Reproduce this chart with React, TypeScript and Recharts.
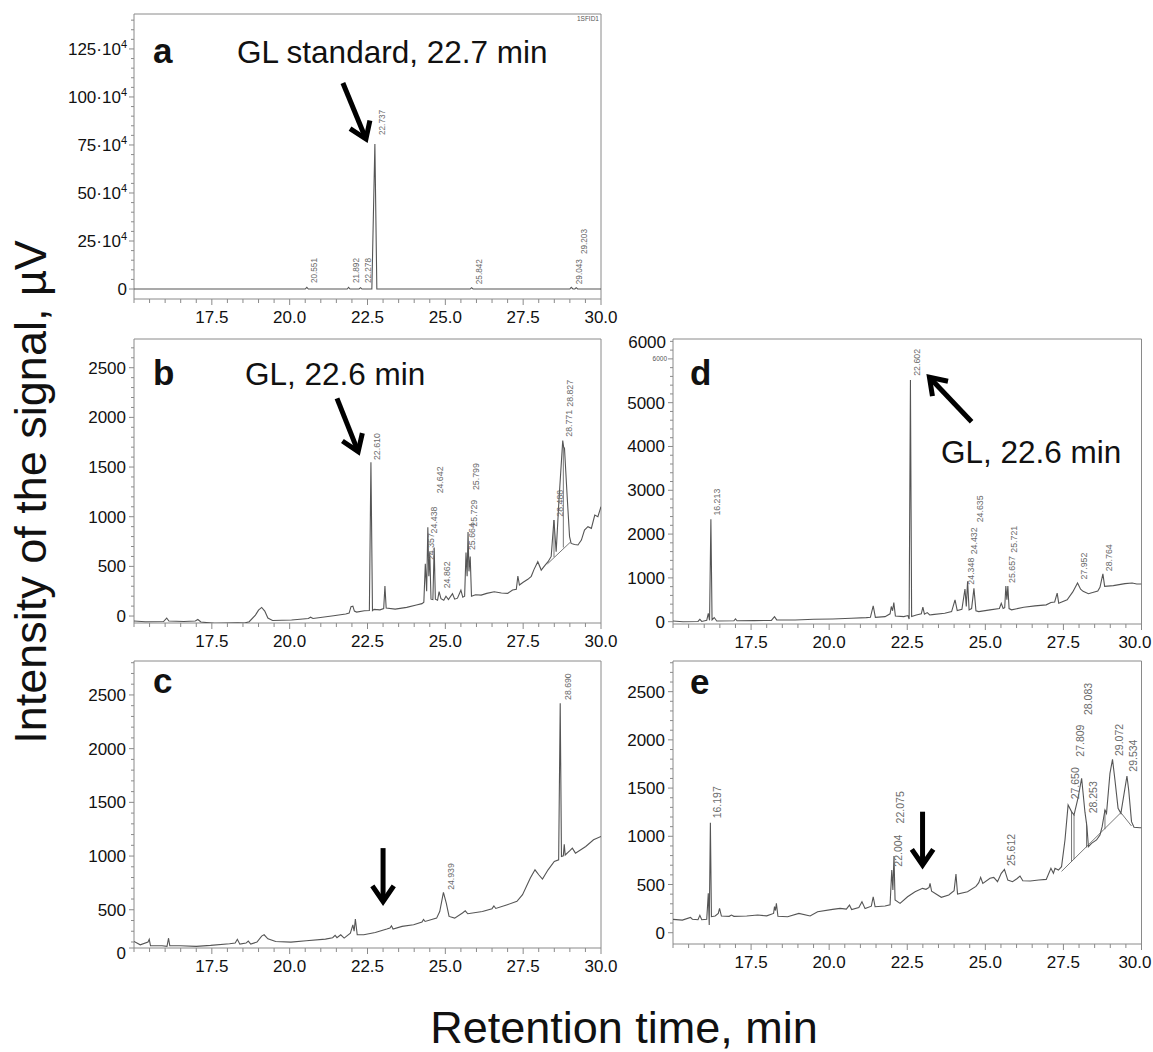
import React from "react";
import { ComposedChart, Line, XAxis, YAxis, ReferenceLine, ReferenceArea } from "recharts";

type Pt = [number, number];

const FONT = "'Liberation Sans', Arial, Helvetica, sans-serif";
const INK = "#111";
const TRACE = "#555";
const FRAME = "#8a8a8a";
const PEAK_INK = "#6a6a6a";
const PAGE_W = 1153;

const steps = (from: number, to: number, step: number) => {
  const out: number[] = [];
  for (let v = from; v <= to + 1e-9; v += step) out.push(Math.round(v * 1000) / 1000);
  return out;
};

// retention time axis (same for all panels)
const xDomain: [number, number] = [15, 30];
const xMajor = [17.5, 20, 22.5, 25, 27.5, 30];
const xTicks = steps(15, 30, 0.5);

// a: GL standard
const traceA: Pt[] = [
  [15, 0], [20.5, 0], [20.551, 9000], [20.6, 0], [21.85, 0], [21.892, 9000], [21.94, 0],
  [22.23, 0], [22.278, 7000], [22.32, 0], [22.64, 0], [22.737, 755000], [22.8, 0],
  [25.8, 0], [25.842, 7000], [25.89, 0], [29.0, 0], [29.043, 9000], [29.1, 0],
  [29.16, 0], [29.203, 7000], [29.25, 0], [30, 0],
];
const peaksA: Pt[] = [
  [20.551, 31000], [21.892, 31000], [22.278, 31000], [22.737, 802000],
  [25.842, 25000], [29.043, 25000], [29.203, 182000],
];

// b
const traceB: Pt[] = [
  [15.0, -50], [15.36, -57], [15.95, -55], [16.05, -20], [16.12, -50], [16.6, -55], [16.97, -50],
  [17.05, -35], [17.15, -60], [17.59, -74], [18.0, -70], [18.33, -67], [18.55, -70], [18.7, -57],
  [18.9, 10], [19.0, 60], [19.1, 87], [19.2, 50], [19.3, -20], [19.45, -45], [20.06, -40],
  [20.6, -25], [20.67, -12], [20.75, -25], [21.41, 3], [21.8, 20], [21.91, 30], [21.97, 95],
  [22.03, 100], [22.08, 50], [22.15, 40], [22.4, 54], [22.56, 55], [22.61, 1547], [22.66, 55],
  [22.71, 67], [22.9, 62], [23.02, 75], [23.06, 302], [23.1, 80], [23.39, 70], [23.76, 87],
  [24.07, 111], [24.25, 125], [24.31, 140], [24.357, 525], [24.4, 250], [24.438, 895],
  [24.47, 400], [24.5, 640], [24.54, 170], [24.6, 165], [24.642, 690], [24.68, 170],
  [24.75, 160], [24.8, 245], [24.86, 175], [24.95, 160], [25.02, 200], [25.1, 165],
  [25.23, 225], [25.3, 170], [25.39, 180], [25.5, 260], [25.56, 190], [25.62, 200],
  [25.664, 640], [25.7, 400], [25.729, 845], [25.76, 450], [25.799, 600], [25.84, 200],
  [25.97, 215], [26.15, 211], [26.33, 228], [26.57, 245], [26.8, 232], [27.0, 228],
  [27.16, 262], [27.28, 270], [27.33, 403], [27.38, 312], [27.5, 340], [27.65, 370],
  [27.76, 400], [27.85, 470], [27.97, 547], [28.08, 463], [28.2, 510], [28.3, 547],
  [28.4, 600], [28.488, 967], [28.56, 648], [28.65, 1168], [28.771, 1766], [28.8, 1700],
  [28.827, 1690], [28.92, 1168], [28.99, 800], [29.04, 731], [29.15, 720], [29.26, 715],
  [29.37, 765], [29.47, 866], [29.58, 900], [29.69, 883], [29.8, 1017], [29.9, 1000], [30.0, 1101],
];
const peaksB: Pt[] = [
  [22.61, 1570], [24.357, 564], [24.438, 832], [24.642, 1235], [24.862, 279], [25.664, 664],
  [25.729, 900], [25.799, 1268], [28.488, 1000], [28.771, 1805], [28.827, 2107],
];
const marksB: Pt[][] = [
  [[28.28, 525], [29.02, 745]],
  [[28.49, 594], [28.49, 967]],
  [[28.79, 690], [28.79, 1700]],
];

// c
const traceC: Pt[] = [
  [15.0, 205], [15.2, 174], [15.45, 200], [15.49, 225], [15.53, 165], [15.9, 165], [16.06, 160],
  [16.11, 235], [16.15, 165], [16.48, 165], [17.0, 159], [17.46, 168], [18.07, 184], [18.25, 190],
  [18.32, 225], [18.4, 180], [18.6, 190], [18.67, 208], [18.75, 180], [18.95, 200], [19.1, 255],
  [19.18, 267], [19.3, 230], [19.55, 205], [20.04, 199], [20.53, 212], [21.15, 227], [21.38, 240],
  [21.46, 262], [21.52, 240], [21.64, 267], [21.75, 236], [21.95, 283], [22.03, 360], [22.07, 300],
  [22.11, 413], [22.17, 267], [22.38, 267], [22.75, 289], [23.12, 320], [23.22, 330], [23.27, 350],
  [23.32, 320], [23.61, 345], [23.98, 360], [24.25, 385], [24.3, 410], [24.35, 391], [24.72, 422],
  [24.82, 484], [24.939, 661], [25.03, 562], [25.12, 438], [25.3, 422], [25.55, 470], [25.64, 490],
  [25.72, 463], [26.19, 484], [26.5, 510], [26.56, 535], [26.62, 512], [26.99, 547], [27.3, 578],
  [27.48, 640], [27.73, 795], [27.88, 872], [28.0, 826], [28.12, 785], [28.3, 872], [28.5, 950],
  [28.64, 965], [28.69, 2423], [28.73, 996], [28.79, 1002], [28.82, 1110], [28.85, 1010],
  [29.0, 1050], [29.08, 1074], [29.18, 1027], [29.51, 1089], [29.76, 1151], [30.0, 1182],
];
const peaksC: Pt[] = [[24.939, 686], [28.69, 2454]];

// d
const traceD: Pt[] = [
  [15.0, 15], [15.32, 0], [15.8, 5], [15.86, 55], [15.92, 5], [16.08, 30], [16.13, 190], [16.17, 30],
  [16.213, 2340], [16.25, 40], [16.32, 95], [16.4, 15], [16.95, 20], [17.0, 62], [17.05, 20],
  [17.6, 25], [18.15, 30], [18.25, 115], [18.32, 40], [18.91, 38], [19.51, 55], [20.11, 62],
  [20.71, 77], [21.19, 92], [21.32, 100], [21.41, 361], [21.48, 100], [21.79, 115], [21.95, 180],
  [21.99, 346], [22.03, 250], [22.07, 438], [22.12, 131], [22.39, 115], [22.52, 140], [22.56, 60],
  [22.602, 5520], [22.64, 120], [22.79, 154], [22.95, 180], [23.0, 330], [23.05, 170], [23.14, 207],
  [23.22, 154], [23.3, 160], [23.7, 192], [23.92, 230], [24.03, 500], [24.1, 254], [24.25, 284],
  [24.348, 746], [24.39, 350], [24.432, 920], [24.48, 269], [24.56, 300], [24.635, 760], [24.7, 250],
  [24.79, 230], [25.15, 269], [25.45, 300], [25.51, 420], [25.57, 300], [25.62, 320], [25.657, 815],
  [25.69, 500], [25.721, 815], [25.76, 300], [25.84, 270], [26.23, 330], [26.59, 361], [26.95, 384],
  [27.1, 438], [27.22, 450], [27.3, 653], [27.35, 423], [27.62, 500], [27.8, 680], [27.952, 884],
  [28.05, 740], [28.13, 692], [28.3, 638], [28.6, 700], [28.67, 784], [28.764, 1092], [28.82, 807],
  [29.1, 823], [29.47, 869], [29.7, 884], [29.85, 860], [30.0, 861],
];
const peaksD: Pt[] = [
  [16.213, 2422], [22.602, 5614], [24.348, 846], [24.432, 1538], [24.635, 2269],
  [25.657, 884], [25.721, 1576], [27.952, 961], [28.764, 1153],
];

// e
const traceE: Pt[] = [
  [15.0, 138], [15.3, 131], [15.56, 159], [15.62, 140], [15.8, 135], [15.86, 180], [15.92, 135],
  [16.08, 140], [16.13, 408], [16.16, 80], [16.197, 1141], [16.23, 166], [16.35, 173], [16.45, 200],
  [16.49, 252], [16.55, 173], [16.8, 170], [16.87, 183], [16.95, 170], [17.36, 173], [17.71, 183],
  [18.0, 175], [18.22, 200], [18.25, 270], [18.28, 230], [18.31, 304], [18.36, 170], [18.67, 166],
  [19.03, 200], [19.39, 173], [19.63, 218], [20.11, 242], [20.35, 252], [20.55, 245], [20.65, 287],
  [20.72, 240], [20.95, 262], [21.05, 322], [21.15, 250], [21.35, 275], [21.41, 373], [21.47, 270],
  [21.79, 277], [21.95, 290], [22.004, 650], [22.04, 443], [22.075, 795], [22.11, 339], [22.27, 304],
  [22.51, 373], [22.75, 425], [22.99, 460], [23.1, 450], [23.2, 470], [23.23, 512], [23.28, 430],
  [23.59, 367], [23.83, 391], [24.0, 436], [24.06, 609], [24.11, 401], [24.43, 425], [24.7, 480],
  [24.79, 519], [24.85, 574], [24.92, 512], [25.15, 564], [25.27, 574], [25.39, 529], [25.51, 616],
  [25.612, 657], [25.72, 546], [25.87, 529], [26.01, 560], [26.11, 588], [26.2, 539], [26.44, 536],
  [26.71, 546], [26.95, 553], [27.1, 668], [27.18, 616], [27.23, 668], [27.34, 650], [27.44, 685],
  [27.55, 962], [27.65, 1325], [27.76, 1256], [27.84, 1221], [27.97, 1400], [28.083, 1602],
  [28.19, 1250], [28.253, 1100], [28.3, 892], [28.4, 927], [28.56, 962], [28.67, 1014], [28.74, 1100],
  [28.83, 1273], [28.88, 1238], [28.99, 1653], [29.072, 1798], [29.15, 1584], [29.25, 1290],
  [29.34, 1238], [29.41, 1377], [29.534, 1625], [29.59, 1480], [29.68, 1152], [29.76, 1093],
  [29.95, 1089], [30.0, 1089],
];
const peaksE: Pt[] = [
  [16.197, 1186], [22.004, 685], [22.075, 1134], [25.612, 692], [27.65, 1383],
  [27.809, 1826], [28.083, 2258], [28.253, 1238], [29.072, 1833], [29.534, 1670],
];
const marksE: Pt[][] = [
  [[27.44, 636], [29.34, 1245], [29.68, 1107]],
  [[27.76, 738], [27.76, 1256]],
  [[27.84, 763], [27.84, 1221]],
  [[28.24, 885], [28.24, 1150]],
  [[28.83, 1073], [28.83, 1273]],
];

type LabelFn = (v: number, x: number, y: number) => React.ReactNode;

const plainLabel: LabelFn = (v, x, y) => (
  <text x={x - 8} y={y + 6} textAnchor="end" fontSize={17} fontFamily={FONT} fill={INK}>
    {v}
  </text>
);

const labelA: LabelFn = (v, x, y) => (
  <text x={x - 7} y={y + 6} textAnchor="end" fontSize={17} fontFamily={FONT} fill={INK}>
    {v === 0 ? "0" : (
      <>
        {v / 1e4}·10<tspan dy={-7} fontSize={11}>4</tspan>
      </>
    )}
  </text>
);

const labelC: LabelFn = (v, x, y) => (
  <text x={x - 8} y={v === 144 ? y + 11 : y + 6} textAnchor="end" fontSize={17} fontFamily={FONT} fill={INK}>
    {v === 144 ? 0 : v}
  </text>
);

const labelD: LabelFn = (v, x, y) =>
  v === 6000 ? (
    <>
      <text x={x - 7} y={y - 11} textAnchor="end" fontSize={17} fontFamily={FONT} fill={INK}>6000</text>
      <text x={x - 6} y={y + 2} textAnchor="end" fontSize={6.5} fontFamily={FONT} fill="#555">6000</text>
    </>
  ) : (
    plainLabel(v, x, y)
  );

const ArrowShape = (p: any) => {
  const { x1, y1, x2, y2 } = p;
  const ang = Math.atan2(y2 - y1, x2 - x1);
  const len = 19;
  const spread = 0.6;
  const ax = x2 - len * Math.cos(ang - spread);
  const ay = y2 - len * Math.sin(ang - spread);
  const bx = x2 - len * Math.cos(ang + spread);
  const by = y2 - len * Math.sin(ang + spread);
  const ex = x2 - 3 * Math.cos(ang);
  const ey = y2 - 3 * Math.sin(ang);
  return (
    <g>
      <line x1={x1} y1={y1} x2={ex} y2={ey} stroke="#000" strokeWidth={5} />
      <path d={`M${ax},${ay} L${x2},${y2} L${bx},${by}`} fill="none" stroke="#000" strokeWidth={5} strokeLinejoin="miter" />
    </g>
  );
};

type PanelProps = {
  plot: { left: number; top: number; width: number; height: number };
  yDomain: [number, number];
  yTicks: number[];
  yMajor: number[];
  yLabel: LabelFn;
  trace: Pt[];
  peaks: Pt[];
  peakFont: number;
  peakDx: number;
  arrow: [Pt, Pt];
  marks?: Pt[][];
};

function Panel({ plot, yDomain, yTicks, yMajor, yLabel, trace, peaks, peakFont, peakDx, arrow, marks }: PanelProps) {
  const ML = 70, MT = 20, MR = 20, XH = 40;
  const boxLeft = plot.left - ML;
  const traceData = trace.map(([t, v]) => ({ t, v }));
  const peakData = peaks.map(([t, v]) => ({ t, v }));
  const markData = (marks ?? []).flatMap((seg) => [
    ...seg.map(([t, v]) => ({ t, v: v as number | null })),
    { t: seg[seg.length - 1][0], v: null },
  ]);

  const XTick = (p: any) => {
    const { x, y, payload } = p;
    const v = payload.value as number;
    const major = xMajor.some((m) => Math.abs(m - v) < 1e-6);
    // keep the last label on the page at the right edge
    const clip = boxLeft + x + 17 > PAGE_W - 1;
    return (
      <g>
        <line x1={x} x2={x} y1={y} y2={y + (major ? 6 : 4)} stroke={FRAME} />
        {major && (
          <text
            x={clip ? PAGE_W - 2 - boxLeft : x}
            y={y + 24}
            textAnchor={clip ? "end" : "middle"}
            fontSize={17}
            fontFamily={FONT}
            fill={INK}
          >
            {v.toFixed(1)}
          </text>
        )}
      </g>
    );
  };

  const YTick = (p: any) => {
    const { x, y, payload } = p;
    const v = payload.value as number;
    const major = yMajor.includes(v);
    return (
      <g>
        <line x1={x} x2={x - (major ? 5 : 3)} y1={y} y2={y} stroke={FRAME} />
        {major && yLabel(v, x, y)}
      </g>
    );
  };

  return (
    <div style={{ position: "absolute", left: boxLeft, top: plot.top - MT }}>
      <ComposedChart
        width={plot.width + ML + MR}
        height={plot.height + MT + XH}
        margin={{ top: MT, right: MR, bottom: 0, left: 0 }}
      >
        <XAxis
          type="number"
          dataKey="t"
          domain={xDomain}
          ticks={xTicks}
          interval={0}
          allowDataOverflow
          axisLine={false}
          tickLine={false}
          tickSize={0}
          tickMargin={0}
          height={XH}
          tick={(p: any) => <XTick {...p} />}
        />
        <YAxis
          type="number"
          domain={yDomain}
          ticks={yTicks}
          interval={0}
          allowDataOverflow
          axisLine={false}
          tickLine={false}
          tickSize={0}
          tickMargin={0}
          width={ML}
          tick={(p: any) => <YTick {...p} />}
        />
        <ReferenceArea
          x1={xDomain[0]}
          x2={xDomain[1]}
          y1={yDomain[0]}
          y2={yDomain[1]}
          fill="none"
          stroke={FRAME}
          strokeWidth={1}
          ifOverflow="visible"
        />
        {markData.length > 0 && (
          <Line
            data={markData}
            dataKey="v"
            type="linear"
            stroke={TRACE}
            strokeWidth={0.8}
            dot={false}
            activeDot={false}
            connectNulls={false}
            isAnimationActive={false}
          />
        )}
        <Line
          data={traceData}
          dataKey="v"
          type="linear"
          stroke={TRACE}
          strokeWidth={1.1}
          dot={false}
          activeDot={false}
          isAnimationActive={false}
        />
        <Line
          data={peakData}
          dataKey="v"
          stroke="none"
          activeDot={false}
          isAnimationActive={false}
          dot={(p: any) => {
            const px = p.cx + peakDx;
            return (
              <text
                key={`pk-${p.index}`}
                x={px}
                y={p.cy}
                transform={`rotate(-90 ${px} ${p.cy})`}
                fontSize={peakFont}
                fontFamily={FONT}
                fill={PEAK_INK}
              >
                {p.payload.t.toFixed(3)}
              </text>
            );
          }}
        />
        <ReferenceLine
          segment={[
            { x: arrow[0][0], y: arrow[0][1] },
            { x: arrow[1][0], y: arrow[1][1] },
          ]}
          ifOverflow="visible"
          shape={ArrowShape}
        />
      </ComposedChart>
    </div>
  );
}

export default function App() {
  return (
    <div style={{ position: "absolute", left: 0, top: 0, width: PAGE_W, height: 1052, background: "#fff" }}>
      <Panel
        plot={{ left: 134, top: 14, width: 467, height: 285 }}
        yDomain={[-52000, 1432000]}
        yTicks={steps(0, 1400000, 50000)}
        yMajor={[0, 250000, 500000, 750000, 1000000, 1250000]}
        yLabel={labelA}
        trace={traceA}
        peaks={peaksA}
        peakFont={8.2}
        peakDx={10.5}
        arrow={[[21.71, 1072600], [22.45, 781000]]}
      />
      <Panel
        plot={{ left: 134, top: 339, width: 467, height: 284 }}
        yDomain={[-70, 2789]}
        yTicks={steps(0, 2700, 100)}
        yMajor={[0, 500, 1000, 1500, 2000, 2500]}
        yLabel={plainLabel}
        trace={traceB}
        peaks={peaksB}
        peakFont={8.8}
        peakDx={9}
        arrow={[[21.52, 2192], [22.2, 1655]]}
        marks={marksB}
      />
      <Panel
        plot={{ left: 134, top: 661, width: 467, height: 287 }}
        yDomain={[144, 2816]}
        yTicks={[144, ...steps(200, 2800, 100)]}
        yMajor={[144, 500, 1000, 1500, 2000, 2500]}
        yLabel={labelC}
        trace={traceC}
        peaks={peaksC}
        peakFont={8.7}
        peakDx={10.5}
        arrow={[[23.0, 1074], [23.0, 577]]}
      />
      <Panel
        plot={{ left: 672.5, top: 339, width: 468.5, height: 285 }}
        yDomain={[-53, 6454]}
        yTicks={steps(0, 6400, 200)}
        yMajor={[0, 1000, 2000, 3000, 4000, 5000, 6000]}
        yLabel={labelD}
        trace={traceD}
        peaks={peaksD}
        peakFont={8.8}
        peakDx={9.5}
        arrow={[[24.56, 4566], [23.21, 5580]]}
      />
      <Panel
        plot={{ left: 672.5, top: 661, width: 468.5, height: 283 }}
        yDomain={[-117, 2818]}
        yTicks={steps(0, 2800, 100)}
        yMajor={[0, 500, 1000, 1500, 2000, 2500]}
        yLabel={plainLabel}
        trace={traceE}
        peaks={peaksE}
        peakFont={10.5}
        peakDx={10.5}
        arrow={[[22.99, 1255], [22.99, 702]]}
        marks={marksE}
      />
      <svg
        width={PAGE_W}
        height={1052}
        style={{ position: "absolute", left: 0, top: 0, pointerEvents: "none" }}
        fontFamily={FONT}
      >
        <text x={46} y={492} transform="rotate(-90 46 492)" textAnchor="middle" fontSize={45} fill={INK}>
          Intensity of the signal, µV
        </text>
        <text x={624} y={1043} textAnchor="middle" fontSize={45} fill={INK}>
          Retention time, min
        </text>
        <text x={599} y={21} textAnchor="end" fontSize={6.5} fill="#555">1SFID1</text>

        <text x={153} y={63} fontSize={35} fontWeight="bold" fill={INK}>a</text>
        <text x={153} y={385} fontSize={35} fontWeight="bold" fill={INK}>b</text>
        <text x={153} y={693} fontSize={35} fontWeight="bold" fill={INK}>c</text>
        <text x={690} y={385} fontSize={35} fontWeight="bold" fill={INK}>d</text>
        <text x={690} y={694} fontSize={35} fontWeight="bold" fill={INK}>e</text>

        <text x={237} y={63} fontSize={31.5} fill={INK}>GL standard, 22.7 min</text>
        <text x={245} y={385} fontSize={31.5} fill={INK}>GL, 22.6 min</text>
        <text x={941} y={463} fontSize={31.5} fill={INK}>GL, 22.6 min</text>
      </svg>
    </div>
  );
}
